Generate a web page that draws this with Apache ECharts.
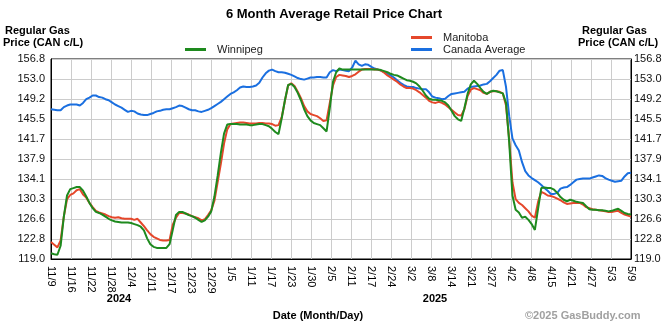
<!DOCTYPE html>
<html><head><meta charset="utf-8">
<script src="https://cdn.jsdelivr.net/npm/echarts@6/dist/echarts.min.js"></script>
<style>html,body{margin:0;padding:0;background:#fff}#c{width:670px;height:325px}</style>
</head><body><div id="c"></div>
<script>
const tickLabels = ['11/9','11/16','11/22','11/28','12/4','12/11','12/17','12/23','12/29','1/5','1/11','1/17','1/23','1/30','2/5','2/11','2/17','2/24','3/2','3/8','3/14','3/21','3/27','4/2','4/8','4/15','4/21','4/27','5/3','5/9'];
const startDate = '2024-11-09';
const dayCount = 182;
const yMin = 119.0, yMax = 156.8, yStep = 3.78;
const seriesNames = ['Manitoba', 'Canada Average', 'Winnipeg'];

const winnipeg = [120.1,119.9,119.8,121.5,127.0,131.0,132.2,132.4,132.6,132.6,
131.9,130.8,129.6,128.6,127.9,127.7,127.4,127.0,126.6,126.3,
126.1,126.0,125.9,125.9,125.9,125.8,125.6,125.4,125.1,124.4,
122.9,121.8,121.3,121.1,121.1,121.1,121.1,121.8,124.5,127.3,
127.9,127.9,127.6,127.3,127.1,126.8,126.4,126.0,126.3,127.0,
128.0,130.8,134.7,139.0,142.7,144.4,144.5,144.5,144.5,144.4,
144.4,144.4,144.3,144.3,144.4,144.5,144.5,144.3,144.1,143.6,
143.0,142.6,145.6,149.0,151.9,152.1,151.5,150.4,149.0,147.3,
146.0,145.2,144.7,144.5,144.3,143.7,143.1,147.5,152.5,154.3,
155.0,154.8,154.8,154.8,154.8,154.8,154.8,154.8,154.8,154.8,
154.8,154.8,154.8,154.7,154.5,154.3,154.0,153.8,153.7,153.4,
153.1,152.8,152.7,152.5,152.2,151.6,150.8,149.9,149.3,149.1,
149.1,149.0,148.9,148.6,148.0,147.0,146.0,145.4,145.1,147.5,
150.2,152.0,152.7,152.1,151.3,150.6,150.2,150.6,150.8,150.7,
150.5,150.3,148.5,141.0,131.0,128.3,127.8,126.8,127.0,126.4,
125.6,124.5,128.5,132.4,132.5,132.4,132.4,132.1,131.5,130.7,
130.2,129.9,130.2,130.0,129.8,129.7,129.6,129.0,128.4,128.3,
128.3,128.2,128.2,128.1,128.0,128.1,128.3,128.5,128.1,127.7,
127.5,127.4];

const manitoba = [122.2,121.7,121.2,122.5,127.0,130.3,131.1,131.4,132.0,132.2,
131.2,130.6,129.6,128.8,128.1,127.8,127.6,127.4,127.1,126.9,
126.8,126.9,126.7,126.6,126.6,126.6,126.4,126.6,125.9,125.2,
124.4,123.7,123.2,122.9,122.6,122.5,122.5,122.6,125.5,126.8,
127.7,127.7,127.6,127.4,127.1,126.9,126.7,126.3,126.5,127.3,
128.2,130.0,133.5,137.0,140.8,143.5,144.5,144.6,144.7,144.8,
144.8,144.7,144.6,144.6,144.6,144.7,144.7,144.6,144.6,144.5,
144.2,144.3,145.8,148.9,151.8,152.2,151.7,150.6,149.4,147.9,
146.9,146.4,146.2,146.0,145.6,145.1,145.2,148.5,151.8,153.4,
153.8,153.7,153.6,153.4,153.6,153.9,154.4,154.8,154.9,154.9,
154.9,154.8,154.8,154.6,154.2,153.7,153.3,152.9,152.5,152.0,
151.6,151.3,151.3,151.2,150.9,150.5,150.0,149.5,148.9,148.6,
148.5,148.7,148.5,148.2,147.7,147.2,146.7,146.2,146.1,147.3,
149.8,151.0,151.3,151.1,150.9,150.4,150.2,150.6,150.7,150.7,
150.6,150.3,148.0,141.5,133.5,130.3,129.6,129.2,128.6,128.0,
127.2,126.8,129.8,131.7,131.4,131.0,130.9,130.7,130.4,130.1,
129.7,129.4,129.5,129.6,129.6,129.6,129.3,128.8,128.6,128.4,
128.3,128.2,128.1,128.0,127.9,127.9,128.0,128.1,127.7,127.4,
127.2,127.0];

const canadaAverage = [147.3,147.2,147.1,147.1,147.7,148.0,148.2,148.2,148.2,148.0,
148.5,149.2,149.5,149.9,149.9,149.6,149.5,149.2,149.0,148.6,
148.2,147.9,147.6,147.2,146.8,147.0,146.9,146.5,146.3,146.2,
146.2,146.4,146.6,146.9,147.0,147.2,147.3,147.3,147.5,147.7,
148.0,147.9,147.6,147.3,147.1,147.1,146.9,146.8,147.0,147.2,
147.5,147.9,148.3,148.7,149.2,149.7,150.2,150.5,150.9,151.4,
151.6,151.5,151.5,151.6,151.8,152.3,153.3,154.1,154.6,154.8,
154.5,154.3,154.3,154.2,154.0,153.8,153.5,153.2,153.0,152.9,
153.1,153.3,153.3,153.4,153.4,153.3,153.3,154.3,154.7,154.5,
154.8,154.7,154.6,154.5,155.2,156.5,155.8,155.5,155.8,155.7,
155.3,155.0,154.8,154.6,154.3,154.0,153.7,153.3,152.8,152.3,
151.9,151.6,151.5,151.5,151.3,151.2,151.1,151.1,150.5,149.7,
149.5,149.4,149.2,149.3,149.8,150.2,150.3,150.4,150.5,150.6,
151.2,151.5,151.6,151.7,151.8,152.0,152.1,152.6,153.2,153.8,
154.6,154.7,151.5,146.0,141.8,140.5,139.5,137.3,135.6,134.8,
134.3,133.9,133.5,133.0,132.4,131.9,131.3,131.3,131.5,132.3,
132.5,132.6,133.0,133.5,134.0,134.1,134.2,134.2,134.2,134.4,
134.6,134.8,134.7,134.3,134.0,133.8,133.6,133.7,133.8,134.6,
135.2,135.3];

const FONT = "'Liberation Sans', Arial, sans-serif";
const colors = { 'Winnipeg': '#1e8a1e', 'Manitoba': '#e5472b', 'Canada Average': '#1a6fe0' };
const values = { 'Winnipeg': winnipeg, 'Manitoba': manitoba, 'Canada Average': canadaAverage };

const chart = echarts.init(document.getElementById('c'), null, { renderer: 'canvas' });

function yAxisDef(pos) {
  return {
    type: 'value', position: pos, min: yMin, max: yMax, interval: yStep,
    axisLine: { show: true, lineStyle: { color: '#000', width: 1 } },
    axisTick: { show: false },
    splitLine: { show: pos === 'left', lineStyle: { color: '#cccccc', width: 1 } },
    axisLabel: { show: true, margin: pos === 'left' ? 6 : 3, color: '#111', fontSize: 11, fontFamily: FONT,
      formatter: v => v.toFixed(1) }
  };
}

function textEl(text, x, y, align, opts) {
  return Object.assign({
    type: 'text', x: x, y: y,
    style: { text: text, fill: '#000', font: 'bold 11px ' + FONT, textAlign: align, textVerticalAlign: 'middle' }
  }, opts || {});
}

const legendBase = {
  icon: 'rect', itemWidth: 21, itemHeight: 3, itemGap: 0, orient: 'vertical', padding: 0,
  selectedMode: false,
  textStyle: { fontSize: 11, fontFamily: FONT, color: '#222', padding: [0, 0, 0, 6] }
};

chart.setOption({
  animation: false,
  backgroundColor: '#fff',
  grid: { left: 51, top: 59, right: 39, bottom: 66, show: true, borderColor: '#000', borderWidth: 1, backgroundColor: '#fff' },
  legend: [
    Object.assign({}, legendBase, { data: ['Winnipeg'], left: 185, top: 44 }),
    Object.assign({}, legendBase, { data: ['Manitoba'], left: 411, top: 32 }),
    Object.assign({}, legendBase, { data: ['Canada Average'], left: 411, top: 44 })
  ],
  xAxis: [
    { type: 'value', min: 0, max: dayCount - 1, position: 'top', show: false, splitLine: { show: false } },
    { type: 'category', data: tickLabels, boundaryGap: false, position: 'bottom',
      axisLine: { show: true, lineStyle: { color: '#000' } },
      axisTick: { show: false },
      splitLine: { show: true, interval: 0, lineStyle: { color: '#cccccc', width: 1 } },
      axisLabel: { interval: 0, rotate: -90, margin: 7, color: '#000', fontSize: 11, fontFamily: FONT } }
  ],
  yAxis: [yAxisDef('left'), yAxisDef('right')],
  series: seriesNames.map(name => ({
    name: name, type: 'line', xAxisIndex: 0, yAxisIndex: 0,
    data: values[name].map((v, i) => [i, v]),
    showSymbol: false, symbol: 'none',
    lineStyle: { color: colors[name], width: 2 },
    itemStyle: { color: colors[name] },
    z: name === 'Winnipeg' ? 4 : (name === 'Manitoba' ? 3 : 2)
  })),
  graphic: [
    textEl('6 Month Average Retail Price Chart', 334, 14, 'center', { style: { text: '6 Month Average Retail Price Chart', fill: '#000', font: 'bold 13px ' + FONT, textAlign: 'center', textVerticalAlign: 'middle' } }),
    textEl('Regular Gas', 5, 31, 'left'),
    textEl('Price (CAN c/L)', 3, 43, 'left'),
    textEl('Regular Gas', 582, 31, 'left'),
    textEl('Price (CAN c/L)', 578, 43, 'left'),
    textEl('2024', 119, 299, 'center'),
    textEl('2025', 435, 299, 'center'),
    textEl('Date (Month/Day)', 318, 316, 'center'),
    { type: 'text', x: 525, y: 316, style: { text: '\u00a92025 GasBuddy.com', fill: '#a0a0a0', font: 'bold 11px ' + FONT, textAlign: 'left', textVerticalAlign: 'middle' } }
  ]
});
</script>
</body></html>
